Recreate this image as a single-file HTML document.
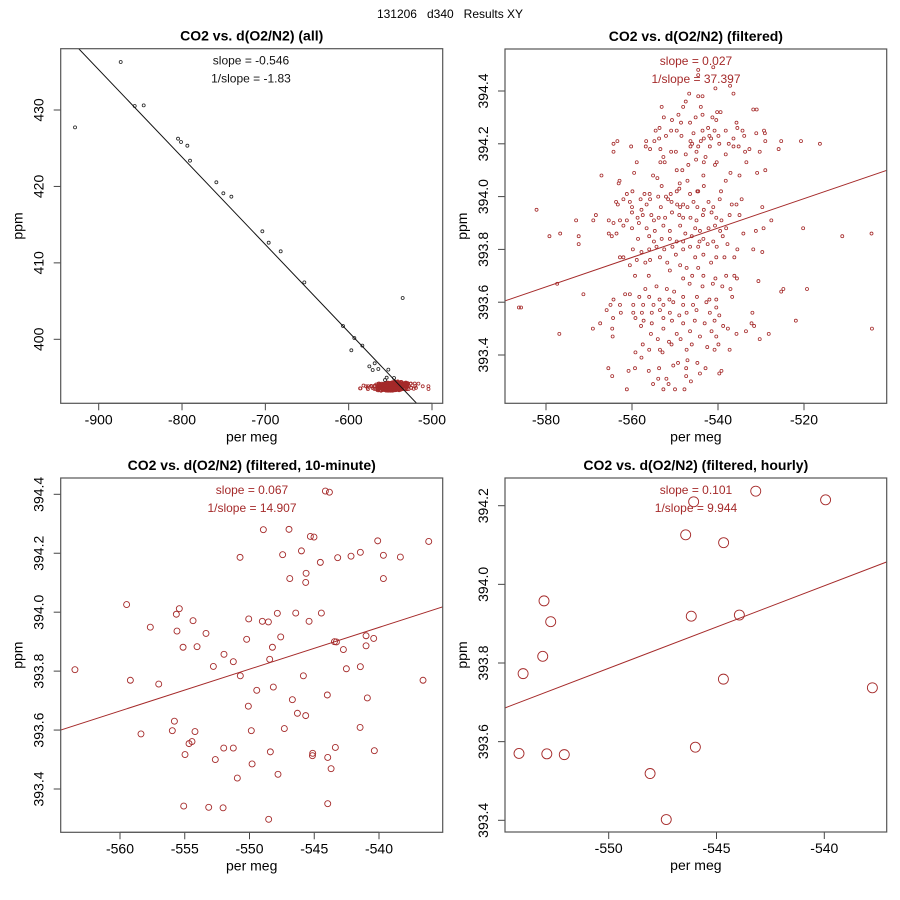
<!DOCTYPE html>
<html><head><meta charset="utf-8"><style>
html,body{margin:0;padding:0;background:#fff;width:900px;height:900px;overflow:hidden;}
svg{display:block;font-family:"Liberation Sans",Arial,sans-serif;}
</style></head><body>
<svg id="chart" width="900" height="900" viewBox="0 0 900 900">
<text x="450" y="18" text-anchor="middle" font-size="12" style="white-space:pre" xml:space="preserve">131206   d340   Results XY</text>
</svg>
<script>
// ---------- DATA ----------
const p1BlackX = [-928.4,-873.6,-856.8,-846,-804.8,-801.2,-793.6,-790.4,-758.8,-750.4,-740.8,-703.6,-696,-681.6,-653.2,-606.8,-593.2,-596.8,-583.6,-575.2,-568.8,-571.2,-564.4,-552.4,-535.2,-554.4,-556.4,-545.6];
const p1BlackY = [427.73,436.28,430.52,430.61,426.25,425.81,425.33,423.37,420.54,419.10,418.66,414.13,412.64,411.51,407.45,401.74,400.17,398.56,399.17,396.46,396.86,395.98,396.11,396.03,405.40,394.98,394.67,394.94];
const p1Line = [-924, 438.02, -0.1144]; // x0, y0, slope
const p1Slope = ["slope = -0.546", "1/slope = -1.83"];

const p2X = [-544.6,-541.1,-544.6,-546.7,-540.6,-537.2,-536.4,-544.6,-543.6,-547.5,-553.1,-548.1,-544,-540.2,-539.4,-531.8,-531,-552.6,-549.2,-545.2,-543.6,-541.3,-540.4,-550.7,-548.6,-546.5,-535.7,-535.5,-553.6,-554.5,-549.6,-550.9,-543.6,-542.3,-540.8,-538.2,-534.3,-529.3,-531.1,-529.1,-548.5,-545.7,-552.1,-542,-539.9,-536.4,-533.9,-556.7,-553.7,-554.8,-546.4,-544,-543.3,-541.6,-564.3,-563.4,-560.2,-556.8,-555.8,-546,-546.4,-544.6,-541.9,-539.7,-537.5,-536.4,-535.2,-529,-525.3,-520.7,-516.3,-564.3,-525.9,-553.4,-550.9,-547.5,-545,-542.9,-538.2,-533.7,-532.7,-530.3,-552.7,-549.8,-552.4,-553.4,-558.9,-546.9,-545.1,-543.3,-540.7,-540.3,-533.4,-549.6,-548.3,-537.1,-529,
-567.1,-562.9,-559.5,-555.1,-554.1,-553.1,-548.9,-547.1,-543.4,-538.2,-535,-530.9,-563.1,-549,-544.8,-543.3,-549.6,-561.2,-559.9,-557.1,-555.9,-552.1,-551,-546.5,-544.6,-539.3,
-563.7,-562,-560.5,-558,-555.8,-553.9,-551.6,-549.5,-548.1,-545.7,-542.2,-539.6,-534.5,-563.3,-560,-557.8,-556.6,-553.3,-550.8,-548.8,-547.1,-544.8,-543.3,-541.1,-536.8,-535.7,-582.2,-529.7,-568.4,-569,-573,-565.4,-564.3,-562.8,-561.2,-560,-558.7,-557.5,-555.5,-554.9,-553.8,-552.3,-550.7,-549,-548.1,-546.4,-545,-543.5,-541.5,-540.4,-539.2,-537.3,-535,-527.6,-562,-560,-558.4,-556.6,-554.7,-552.7,-551.2,-548.8,-547.6,-545.3,-544.2,-542.2,-540.7,-539.5,-538.1,-531.2,-529.4,-520.2,-576.7,-579.2,-572.4,-565.4,-564.7,-563.6,-558.6,-556,-554.9,-553.1,-551.2,-549.6,-548.1,-546.1,-544.3,-543.4,-541.1,-538.9,-534.1,-511.1,-504.3,-572.4,-559.8,-557.8,-556,-554.3,-552.5,-550.6,-548.1,-546.5,-544.6,-542.4,-540.3,-537.8,-535.5,-531.8,-529.7,
-562.8,-562,-560.5,-558.9,-556.9,-555.8,-553.5,-551.8,-549.8,-548.8,-547.3,-545.3,-543.4,-544.6,-541.6,-540.4,-538.5,-536.2,-559.3,-556.1,-551.2,-548.1,-546,-543.4,-540.6,-538.1,-536.2,-535.6,-530.6,-577.4,-546.6,-543.6,-541.2,-539,-537.1,-571.3,-554.3,-551.9,-550.2,-556.9,-560.5,-561.6,-564.3,-558.3,-556,-553.6,-551.3,-548.1,-544.9,-542,-540.4,-536.7,-525.3,-524.8,-519.3,
-586.3,-585.8,-565.9,-565,-562.8,-559.7,-557.4,-555,-552.7,-550.4,-548.1,-545.8,-542.7,-540.4,-562.6,-559.7,-557.7,-555.4,-553.5,-551.2,-549,-547.3,-545,-541.9,-539.7,-532,-564.4,-559.2,-557.3,-555.4,-552.7,-550.7,-548.1,-545.4,-543.1,-540.8,-538.8,-532.2,-531.6,-521.9,-567.4,-569.1,-564.6,-576.9,-564.5,-557.9,-555.6,-552.7,-549.6,-546.5,-544.2,-541.5,-540.4,-537.7,-535.7,-533.5,-528.2,-530.3,-504.2,-557.5,-554,-551.4,-548.7,-546.1,-542.5,-539.9,-537.3,-556,-553.5,-550.8,-547.3,-540.8,
-559.2,-557.8,-552.9,-549.3,-547.1,-544.8,-565.5,-559.3,-556.1,-553.7,-550.4,-547.4,-544.2,-542.9,-539.2,-560.8,-564.6,-553.9,-552,-547.4,-546.3,-539.7,-561.2,-555.1,-552.7,-550,-547.8,-551.5];
const p2Y = [394.48,394.49,394.46,394.39,394.41,394.42,394.39,394.38,394.38,394.36,394.34,394.34,394.34,394.32,394.32,394.33,394.33,394.30,394.31,394.30,394.31,394.30,394.29,394.29,394.28,394.28,394.28,394.26,394.26,394.25,394.25,394.25,394.25,394.26,394.25,394.25,394.25,394.25,394.24,394.24,394.23,394.24,394.23,394.23,394.23,394.22,394.23,394.21,394.22,394.21,394.21,394.21,394.22,394.22,394.20,394.21,394.19,394.19,394.18,394.20,394.19,394.19,394.19,394.20,394.20,394.19,394.19,394.21,394.21,394.21,394.20,394.17,394.18,394.18,394.17,394.16,394.17,394.15,394.16,394.17,394.18,394.17,394.15,394.17,394.13,394.13,394.13,394.12,394.14,394.13,394.12,394.13,394.13,394.10,394.10,394.09,394.10,
394.08,394.06,394.09,394.08,394.07,394.04,394.05,394.06,394.08,394.06,394.08,394.09,394.05,394.03,394.02,394.04,394.02,394.01,394.02,394.01,394.01,394.00,394.01,394.01,394.02,394.02,
393.98,393.99,393.98,393.99,393.99,394.00,393.99,393.97,393.97,393.98,393.98,393.99,393.99,393.97,393.96,393.95,393.97,393.96,393.98,393.96,393.96,393.96,393.95,393.96,393.97,393.97,393.95,393.96,393.93,393.91,393.91,393.91,393.90,393.91,393.91,393.94,393.92,393.93,393.93,393.91,393.92,393.92,393.94,393.93,393.92,393.92,393.91,393.93,393.94,393.92,393.91,393.93,393.93,393.91,393.89,393.88,393.90,393.88,393.87,393.89,393.87,393.89,393.86,393.88,393.87,393.88,393.89,393.87,393.88,393.87,393.88,393.88,393.86,393.85,393.85,393.86,393.85,393.86,393.84,393.85,393.83,393.84,393.84,393.83,393.83,393.85,393.83,393.84,393.83,393.85,393.86,393.85,393.86,393.82,393.80,393.79,393.80,393.81,393.80,393.81,393.80,393.81,393.81,393.82,393.81,393.82,393.80,393.80,393.79,
393.77,393.77,393.74,393.76,393.75,393.76,393.77,393.75,393.78,393.74,393.73,393.77,393.78,393.73,393.75,393.77,393.77,393.77,393.70,393.70,393.72,393.69,393.70,393.70,393.69,393.70,393.70,393.69,393.68,393.67,393.67,393.66,393.67,393.66,393.65,393.63,393.66,393.65,393.64,393.65,393.63,393.63,393.61,393.62,393.62,393.61,393.61,393.62,393.62,393.61,393.61,393.62,393.64,393.65,393.65,
393.58,393.58,393.57,393.59,393.59,393.59,393.59,393.59,393.59,393.60,393.59,393.59,393.60,393.58,393.56,393.56,393.56,393.56,393.57,393.56,393.55,393.56,393.57,393.56,393.55,393.56,393.54,393.54,393.53,393.52,393.54,393.53,393.52,393.53,393.52,393.53,393.51,393.52,393.51,393.53,393.52,393.50,393.50,393.48,393.47,393.51,393.48,393.50,393.48,393.49,393.47,393.49,393.47,393.50,393.48,393.49,393.48,393.46,393.50,393.44,393.46,393.45,393.46,393.44,393.43,393.44,393.42,393.42,393.42,393.44,393.42,393.42,
393.41,393.39,393.41,393.37,393.38,393.37,393.35,393.35,393.34,393.35,393.36,393.35,393.33,393.35,393.34,393.34,393.32,393.31,393.31,393.32,393.30,393.33,393.27,393.29,393.27,393.27,393.27,393.29];
const p2Line = [-589.53, 393.605, 0.00557];
const p2Slope = ["slope = 0.027", "1/slope = 37.397"];

const p3X = [-563.48,-559.49,-559.20,-557.66,-557.01,-558.38,-555.42,-555.65,-555.60,-555.13,-555.80,-555.96,-554.98,-554.67,-554.44,-554.21,-554.36,-554.05,-555.08,-553.36,-552.79,-551.97,-551.25,-551.99,-551.25,-552.64,-553.15,-552.04,-550.94,-550.22,-550.06,-550.71,-550.73,-549.44,-550.09,-549.86,-549.80,-548.93,-549.01,-548.54,-548.44,-548.23,-548.16,-547.85,-547.59,-547.44,-546.95,-546.89,-547.31,-548.39,-547.80,-548.52,-546.69,-546.30,-546.43,-545.99,-545.84,-545.66,-545.66,-545.63,-545.40,-545.30,-545.02,-545.12,-545.14,-544.53,-544.45,-544.14,-543.83,-543.99,-543.96,-543.70,-543.96,-543.44,-543.29,-543.37,-543.19,-542.75,-542.52,-542.16,-541.44,-541.44,-541.46,-541.00,-541.00,-540.90,-540.41,-540.36,-540.10,-539.66,-539.66,-538.35,-536.60,-536.16];
const p3Y = [393.805,394.026,393.769,393.949,393.756,393.587,394.012,393.993,393.936,393.881,393.630,393.598,393.517,393.554,393.561,393.595,393.971,393.883,393.342,393.928,393.816,393.857,393.832,393.539,393.539,393.500,393.338,393.336,393.437,393.908,393.977,393.784,394.186,393.735,393.681,393.598,393.485,394.280,393.969,393.967,393.840,393.881,393.746,393.996,393.916,394.195,394.281,394.114,393.605,393.526,393.450,393.297,393.703,393.657,393.997,394.208,393.784,393.649,394.101,394.132,393.969,394.257,394.255,393.521,393.513,394.169,393.997,394.411,394.407,393.719,393.507,393.469,393.350,393.900,393.899,393.541,394.185,393.873,393.808,394.190,394.203,393.815,393.609,393.920,393.886,393.709,393.911,393.530,394.242,394.193,394.114,394.187,393.769,394.240];
const p3Line = [-564.58, 393.600, 0.01417];
const p3Slope = ["slope = 0.067", "1/slope = 14.907"];

const p4X = [-554.16,-553.97,-553.0,-553.06,-552.69,-552.87,-552.06,-548.08,-547.33,-546.43,-546.06,-546.17,-545.98,-544.67,-544.68,-543.94,-543.18,-539.94,-537.77];
const p4Y = [393.570,393.773,393.958,393.817,393.905,393.569,393.567,393.519,393.402,394.126,394.210,393.919,393.586,394.106,393.759,393.922,394.237,394.215,393.737];
const p4Line = [-554.8, 393.686, 0.02097];
const p4Slope = ["slope = 0.101", "1/slope = 9.944"];

const p1XTicks = [-900,-800,-700,-600,-500];
const p1YTicks = [400,410,420,430];
const p2XTicks = [-580,-560,-540,-520];
const p2YTicks = [393.4,393.6,393.8,394.0,394.2,394.4];
const p3XTicks = [-560,-555,-550,-545,-540];
const p3YTicks = [393.4,393.6,393.8,394.0,394.2,394.4];
const p4XTicks = [-550,-545,-540];
const p4YTicks = [393.4,393.6,393.8,394.0,394.2];

// ---------- DRAWING ----------
const NS = "http://www.w3.org/2000/svg";
const svg = document.getElementById("chart");
const RED = "#a52a2a";
function mk(tag, attrs, parent){
  const e = document.createElementNS(NS, tag);
  for (const k in attrs) e.setAttribute(k, attrs[k]);
  (parent || svg).appendChild(e);
  return e;
}
function scale(v0,p0,v1,p1){ return v => p0 + (v - v0) * (p1 - p0) / (v1 - v0); }

function panel(cfg){
  const g = mk("g", {});
  
  
  const b = cfg.box, sx = cfg.sx, sy = cfg.sy;
  const cid = cfg.name + "-clip";
  const cp = mk("clipPath", {id: cid}, g);
  mk("rect", {x:b[0], y:b[1], width:b[2]-b[0], height:b[3]-b[1]}, cp);
  const t = mk("text", {x:(b[0]+b[2])/2, y:b[1]-8, "text-anchor":"middle", "font-size":"14", "font-weight":"bold"}, g);
  t.textContent = cfg.title;
  
  
  cfg.xt.forEach(v => {
    const x = sx(v);
    mk("line", {x1:x, x2:x, y1:b[3], y2:b[3]+7, stroke:"#444"}, g);
    const tl = mk("text", {x:x, y:b[3]+21, "text-anchor":"middle", "font-size":"14"}, g);
    tl.textContent = String(v);
    
    
  });
  mk("line", {x1:sx(cfg.xt[0]), x2:sx(cfg.xt[cfg.xt.length-1]), y1:b[3], y2:b[3], stroke:"#444"}, g);
  cfg.yt.forEach(v => {
    const y = sy(v);
    mk("line", {x1:b[0]-7, x2:b[0], y1:y, y2:y, stroke:"#444"}, g);
    const lx = b[0]-17;
    const tl = mk("text", {x:lx, y:y, "text-anchor":"middle", "font-size":"14", transform:`rotate(-90 ${lx} ${y})`}, g);
    tl.textContent = cfg.yfmt(v);
    
    
  });
  const xa = mk("text", {x:(b[0]+b[2])/2, y:b[3]+38, "text-anchor":"middle", "font-size":"14"}, g);
  xa.textContent = "per meg";
  
  
  const yx = b[0]-38, yy = (b[1]+b[3])/2;
  const ya = mk("text", {x:yx, y:yy, "text-anchor":"middle", "font-size":"14", transform:`rotate(-90 ${yx} ${yy})`}, g);
  ya.textContent = "ppm";
  
  
  const pg = mk("g", {"clip-path":`url(#${cid})`}, g);
  cfg.series.forEach(s => {
    for (let i = 0; i < s.x.length; i++){
      const c = mk("circle", {cx:sx(s.x[i]), cy:sy(s.y[i]), r:s.r, fill:"none", stroke:s.color, "stroke-width":s.sw}, pg);
      
      
    }
  });
  const L = cfg.line;
  const xa0 = L[0] - 1000, xa1 = L[0] + 1000;
  const ln = mk("line", {x1:sx(xa0), y1:sy(L[1] + L[2]*(xa0-L[0])), x2:sx(xa1), y2:sy(L[1] + L[2]*(xa1-L[0])), stroke:cfg.lineColor, "stroke-width":"1", "clip-path":`url(#${cid})`}, g);
  
  
  cfg.slope.forEach((s, i) => {
    const st = mk("text", {x:cfg.annX, y:b[1]+16+i*18, "text-anchor":"middle", "font-size":"12", fill:cfg.lineColor}, g);
    st.textContent = s;
    
    
  });
  const bx = mk("rect", {x:b[0], y:b[1], width:b[2]-b[0], height:b[3]-b[1], fill:"none", stroke:"#555", "stroke-width":"1.2"}, g);
  
  
}

panel({name:"panel-all", title:"CO2 vs. d(O2/N2) (all)", box:[60.7,48.7,442.7,403.3],
  sx:scale(-900,98.7,-500,432), sy:scale(430,110,400,339.3),
  xt:p1XTicks, yt:p1YTicks, yfmt:v=>String(v),
  series:[{x:p1BlackX,y:p1BlackY,r:1.5,color:"#222",sw:0.8},{x:p2X,y:p2Y,r:1.5,color:RED,sw:0.8}],
  line:p1Line, lineColor:"#111", slope:p1Slope, annX:251});
panel({name:"panel-filtered", title:"CO2 vs. d(O2/N2) (filtered)", box:[505,49,886.7,403.3],
  sx:scale(-580,546,-520,804), sy:scale(394.4,91,393.4,355),
  xt:p2XTicks, yt:p2YTicks, yfmt:v=>v.toFixed(1),
  series:[{x:p2X,y:p2Y,r:1.5,color:RED,sw:0.8}],
  line:p2Line, lineColor:RED, slope:p2Slope, annX:696});
panel({name:"panel-10-minute", title:"CO2 vs. d(O2/N2) (filtered, 10-minute)", box:[60.7,478,442.7,832.3],
  sx:scale(-560,120,-540,379), sy:scale(394.4,494.3,393.4,789),
  xt:p3XTicks, yt:p3YTicks, yfmt:v=>v.toFixed(1),
  series:[{x:p3X,y:p3Y,r:3,color:RED,sw:0.9}],
  line:p3Line, lineColor:RED, slope:p3Slope, annX:252});
panel({name:"panel-hourly", title:"CO2 vs. d(O2/N2) (filtered, hourly)", box:[505,478,886.7,832],
  sx:scale(-550,608.7,-540,824.3), sy:scale(394.2,505.7,393.4,820.3),
  xt:p4XTicks, yt:p4YTicks, yfmt:v=>v.toFixed(1),
  series:[{x:p4X,y:p4Y,r:5,color:RED,sw:0.9}],
  line:p4Line, lineColor:RED, slope:p4Slope, annX:696});
</script>
</body></html>
